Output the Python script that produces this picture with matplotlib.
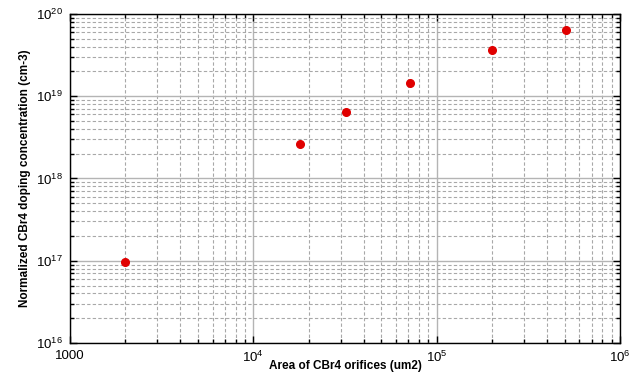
import numpy as np
import matplotlib
matplotlib.use("Agg")
import matplotlib.pyplot as plt
from matplotlib.ticker import LogLocator, FuncFormatter, NullFormatter

# Data
area_um2 = [2000, 18000, 32000, 72000, 200000, 505000]
doping_cm3 = [9.7e16, 2.6e18, 6.5e18, 1.45e19, 3.6e19, 6.4e19]

plt.rcParams['font.family'] = ['Liberation Sans', 'DejaVu Sans']
plt.rcParams['mathtext.fontset'] = 'custom'
plt.rcParams['mathtext.rm'] = 'Liberation Sans'
plt.rcParams['mathtext.it'] = 'Liberation Sans:italic'
plt.rcParams['mathtext.bf'] = 'Liberation Sans:bold'

fig = plt.figure(figsize=(6.44, 3.74), dpi=100)
ax = fig.add_axes([0.1087, 0.0829, 0.8540, 0.8797])

ax.plot(area_um2, doping_cm3, 'o', color='#e00000', ms=5.5, zorder=5)

ax.set_xscale('log')
ax.set_yscale('log')
ax.set_xlim(1e3, 1e6)
ax.set_ylim(1e16, 1e20)

ax.xaxis.set_major_locator(LogLocator(base=10))
ax.xaxis.set_minor_locator(LogLocator(base=10, subs=np.arange(2, 10)))
ax.yaxis.set_major_locator(LogLocator(base=10))
ax.yaxis.set_minor_locator(LogLocator(base=10, subs=np.arange(2, 10)))
ax.xaxis.set_minor_formatter(NullFormatter())
ax.yaxis.set_minor_formatter(NullFormatter())


def xfmt(v, pos):
    if abs(v - 1000) < 1:
        return '1000'
    return r'$10^{%d}$' % round(np.log10(v))


ax.xaxis.set_major_formatter(FuncFormatter(xfmt))
ax.yaxis.set_major_formatter(FuncFormatter(lambda v, p: r'$10^{%d}$' % round(np.log10(v))))

ax.grid(which='major', color='#b4b4b4', linestyle='-', lw=1.0)
ax.grid(which='minor', color='#a8a8a8', linestyle=(0, (3, 2)), lw=0.8)
ax.set_axisbelow(True)

ax.tick_params(which='both', direction='in', top=True, right=True, labelsize=9.5, width=1.0)
ax.tick_params(which='major', length=5, pad=5)
ax.tick_params(which='minor', length=3)
for s in ax.spines.values():
    s.set_linewidth(1.0)

ax.set_xlabel('Area of CBr4 orifices (um2)', fontsize=8.5, fontweight='bold', labelpad=-4)
ax.set_ylabel('Normalized CBr4 doping concentration (cm-3)', fontsize=8.5, fontweight='bold', labelpad=4)

fig.savefig('out.png', dpi=100)
